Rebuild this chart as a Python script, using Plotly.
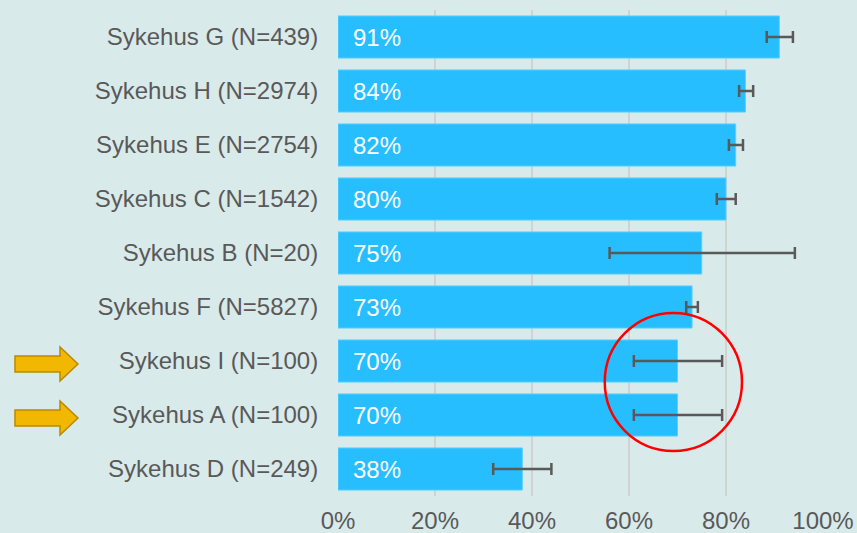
import plotly.graph_objects as go

# Data (bottom to top)
hospitals = ["Sykehus D (N=249)", "Sykehus A (N=100)", "Sykehus I (N=100)",
             "Sykehus F (N=5827)", "Sykehus B (N=20)", "Sykehus C (N=1542)",
             "Sykehus E (N=2754)", "Sykehus H (N=2974)", "Sykehus G (N=439)"]
values = [38, 70, 70, 73, 75, 80, 82, 84, 91]
err_low = [32, 61, 61, 71.8, 56, 78.1, 80.6, 82.7, 88.4]
err_high = [44, 79.2, 79.2, 74.2, 94.2, 82, 83.5, 85.6, 93.8]
value_labels = ["38%", "70%", "70%", "73%", "75%", "80%", "82%", "84%", "91%"]
x_ticks = [0, 20, 40, 60, 80, 100]
x_tick_labels = ["0%", "20%", "40%", "60%", "80%", "100%"]
highlighted = ["Sykehus I (N=100)", "Sykehus A (N=100)"]

W, H = 857, 533
ML, MR, MT, MB = 338, 34, 10, 37
PW, PH = W - ML - MR, H - MT - MB

FONT = "Arial, Liberation Sans, sans-serif"
TXT = "#595959"
FS = 24

plus = [h - v for h, v in zip(err_high, values)]
minus = [v - l for v, l in zip(values, err_low)]

fig = go.Figure()
fig.add_trace(go.Bar(
    y=hospitals, x=values, orientation="h",
    marker=dict(color="#26beff", line=dict(color="#5ccfff", width=1)),
    width=0.78,
    error_x=dict(type="data", symmetric=False, array=plus, arrayminus=minus,
                 color="#595959", thickness=2.5, width=6),
    hoverinfo="skip",
))

for h, lab in zip(hospitals, value_labels):
    fig.add_annotation(x=0, y=h, text=lab, xanchor="left", xshift=13,
                       showarrow=False, font=dict(family=FONT, size=FS, color="white"))


def px2paper(px, py):
    return (px - ML) / PW, (MT + PH - py) / PH


# Arrows pointing at highlighted hospitals
cats_index = {h: i for i, h in enumerate(hospitals)}
n = len(hospitals)
for h in highlighted:
    i = cats_index[h]
    cy = MT + PH - (i + 0.5) * PH / n + 3
    pts = [(15, cy - 8), (60, cy - 8), (60, cy - 17), (78, cy), (60, cy + 17),
           (60, cy + 8), (15, cy + 8)]
    pp = [px2paper(x, y) for x, y in pts]
    path = "M " + " L ".join(f"{x:.5f},{y:.5f}" for x, y in pp) + " Z"
    fig.add_shape(type="path", path=path, xref="paper", yref="paper",
                  fillcolor="#f2b700", line=dict(color="#b88a00", width=1.5))

# Red circle
_, y0 = px2paper(0, 451)
_, y1 = px2paper(0, 313)
fig.add_shape(type="circle", xref="x", yref="paper", x0=55.0, x1=83.3,
              y0=y0, y1=y1, line=dict(color="#ff0000", width=2.5))

fig.update_layout(
    width=W, height=H,
    margin=dict(l=ML, r=MR, t=MT, b=MB, pad=0, autoexpand=False),
    paper_bgcolor="#d9eaea", plot_bgcolor="#d9eaea",
    showlegend=False,
    bargap=0.22,
    font=dict(family=FONT, color=TXT, size=FS),
)
fig.update_xaxes(range=[0, 100], tickvals=x_ticks, ticktext=x_tick_labels,
                 showgrid=True, gridcolor="#d2d2d2", gridwidth=1.5,
                 zeroline=False, showline=False, ticks="outside", ticklen=3,
                 tickcolor="rgba(0,0,0,0)", tickfont=dict(size=FS, color=TXT),
                 fixedrange=True, automargin=False)
fig.update_yaxes(categoryorder="array", categoryarray=hospitals,
                 showgrid=False, ticks="outside", ticklen=14,
                 tickcolor="rgba(0,0,0,0)", tickfont=dict(size=FS, color=TXT),
                 fixedrange=True, automargin=False)

fig.write_html("out.html", config={"displayModeBar": False},
               post_script="document.body.style.margin='0';document.body.style.background='#d9eaea';")
